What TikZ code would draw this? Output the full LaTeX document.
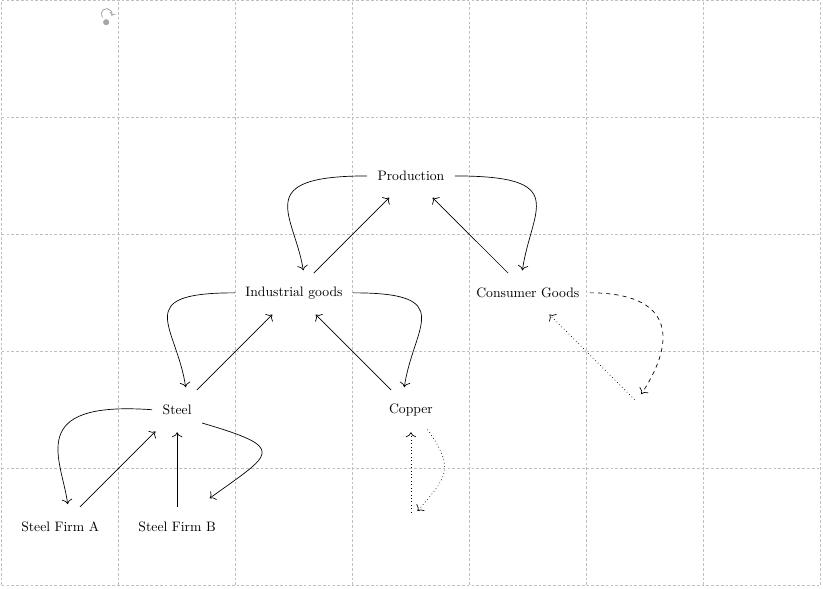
\documentclass[tikz,border=0pt]{standalone}
\usetikzlibrary{arrows.meta}
\begin{document}
\begin{tikzpicture}[x=3cm,y=3cm,
  every node/.style={inner xsep=7.5pt, inner ysep=0pt, minimum height=1cm},
  arr/.style={-{To[scale=1.35]}, line width=0.5pt, shorten >=2pt},
  hole/.style={circle, inner sep=0pt, minimum size=0.72cm}]
  \useasboundingbox (-0.015,-0.025) rectangle (7.025,5.005);
  % Background grid
  \draw[gray!50, step=3cm, dash pattern=on 2pt off 1.5pt] (0,0) grid (7,5);
  % Small rotate handle, top left
  \draw[gray!70, line width=0.6pt, -{To[scale=0.8]}] (0.862,4.856) arc[start angle=220, end angle=-20, radius=0.046];
  \fill[gray!70] (0.893,4.815) circle (0.026);
  % Nodes
  \node (prod)   at (3.5,3.5) {Production};
  \node (ind)    at (2.5,2.5) {Industrial goods};
  \node (cons)   at (4.5,2.5) {Consumer Goods};
  \node (steel)  at (1.5,1.5) {Steel};
  \node (copper) at (3.5,1.5) {Copper};
  \node (firmA)  at (0.5,0.5) {Steel Firm A};
  \node (firmB)  at (1.5,0.5) {Steel Firm B};
  % Empty cells
  \node[hole] (void1) at (5.5,1.5) {};
  \node[hole] (void2) at (3.5,0.5) {};
  % Straight arrows going up
  \draw[arr] (ind) -- (prod);
  \draw[arr] (cons) -- (prod);
  \draw[arr] (steel) -- (ind);
  \draw[arr] (copper) -- (ind);
  \draw[arr] (firmA) -- (steel);
  \draw[arr] (firmB) -- (steel);
  % Curved arrows going down
  \draw[arr] (prod.west) .. controls +(-1,0) and +(-0.08,0.5) .. ([xshift=2.5mm]ind.north);
  \draw[arr] (prod.east) .. controls +(1,0) and +(0.08,0.55) .. ([xshift=-1.5mm]cons.north);
  \draw[arr] (ind.west) .. controls +(-0.9,0) and +(-0.08,0.55) .. ([xshift=2.3mm]steel.north);
  \draw[arr] (ind.east) .. controls +(0.9,0) and +(0.08,0.55) .. ([xshift=-1.8mm]copper.north);
  \draw[arr] (steel.west) .. controls +(-1.1,0.08) and +(-0.05,0.4) .. ([xshift=2mm]firmA.north);
  \draw[arr] (steel.-28) .. controls +(0.75,-0.22) and +(0.55,0.4) .. ([shift={(0.26,0.06)}]firmB.north);
  % Dashed and dotted arrows to empty cells
  \draw[arr, dashed] (cons.east) .. controls +(0.7,0) and +(0.33,0.5) .. (void1.110);
  \draw[arr, dotted] (void1) -- (cons);
  \draw[arr, dotted] (void2) -- (copper);
  \draw[arr, dotted] (copper.-50) .. controls +(0.25,-0.35) and +(0.25,0.3) .. (void2.70);
\end{tikzpicture}
\end{document}
